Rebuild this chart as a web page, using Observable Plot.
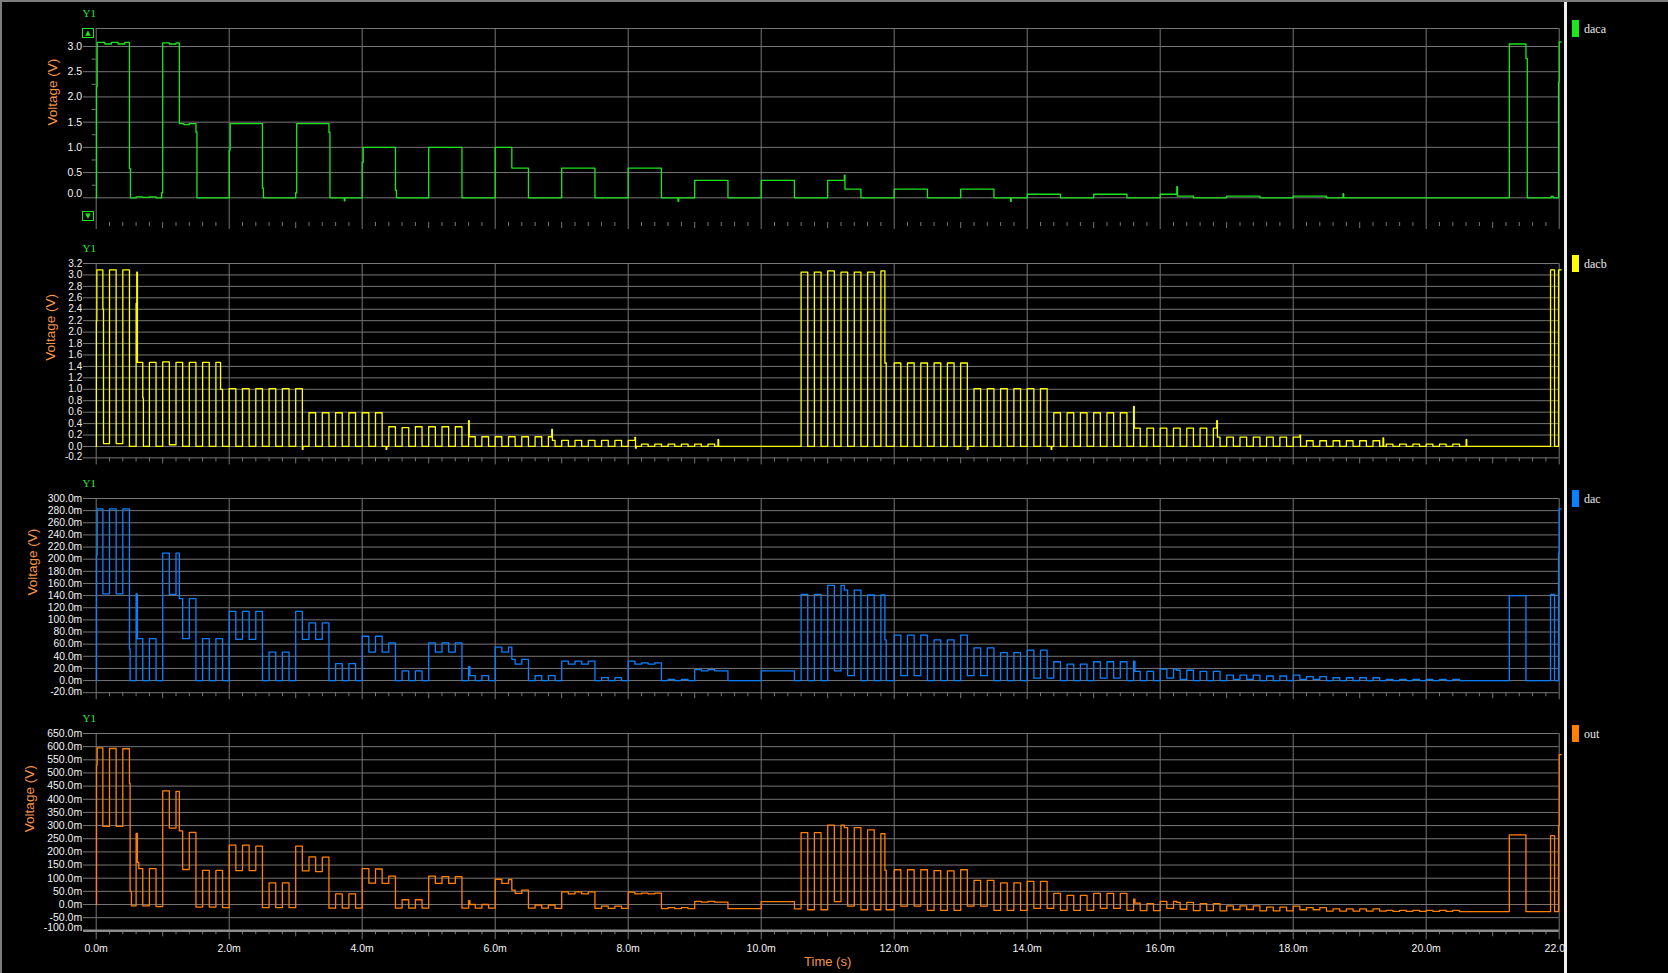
<!DOCTYPE html>
<html><head><meta charset="utf-8">
<script src="https://cdn.jsdelivr.net/npm/d3@7"></script>
<script src="https://cdn.jsdelivr.net/npm/@observablehq/plot@0.6"></script>
<style>
html,body{margin:0;padding:0;background:#000;width:1668px;height:973px;overflow:hidden;}
#root{position:relative;width:1668px;height:973px;background:#000;}
.pan{position:absolute;left:0;}
#topb{position:absolute;left:0;top:0;width:1668px;height:2px;background:#7c7c7c;}
#leftb{position:absolute;left:0;top:0;width:2px;height:973px;background:#7c7c7c;}
#sep{position:absolute;left:1564px;top:2px;width:3px;height:971px;background:#eeeeee;z-index:5;}
#leg{position:absolute;left:1567px;top:2px;width:101px;height:971px;background:#000;z-index:4;}
.sw{position:absolute;left:5px;width:7px;height:17px;}
.lt{position:absolute;left:17px;font:12px "Liberation Serif",serif;color:#e8e8e8;line-height:14px;}
.btn{position:absolute;left:82px;width:10px;height:8px;border:1px solid #22e022;color:#22e022;font:7px "DejaVu Sans",sans-serif;line-height:8px;text-align:center;z-index:3;}
</style></head>
<body><div id="root"><div id="topb"></div><div id="leftb"></div><div id="sep"></div><div id="leg"></div></div>
<script>
// ---------- data (time in ms) ----------
const seriesNames = ["daca", "dacb", "dac", "out"];
const seriesColors = ["#1de61d", "#ffff00", "#0a80ff", "#ff8000"];

// daca [ms, V]
const dacaPts = [[0,0],[0.005,2.2],[0.015,3.08],[0.13,3.05],[0.23,3.08],[0.33,3.05],[0.43,3.08],[0.5,0.58],[0.515,0],
[0.6,0.02],[0.7,0.01],[0.8,0.02],[0.9,0],[0.985,0.1],[1.0,3.07],[1.1,3.05],[1.2,3.07],[1.25,1.47],[1.32,1.45],[1.4,1.47],
[1.5,1.3],[1.515,0],[2.0,0.95],[2.015,1.47],[2.5,0.19],[2.515,0],[3.0,0.1],[3.015,1.47],[3.5,1.3],[3.515,0],[3.73,-0.06],[3.74,0],
[4.0,0.7],[4.015,1.0],[4.5,0.15],[4.515,0],[5.0,1.0],[5.5,0],[6.0,1.0],[6.25,0.59],[6.5,0],[7.0,0.59],[7.5,0],[8.0,0.59],[8.5,0],
[8.75,-0.07],[8.76,0],[9.0,0.345],[9.5,0],[10.0,0.345],[10.5,0],[11.0,0.345],[11.25,0.45],[11.26,0.17],[11.5,0],[12.0,0.17],[12.5,0],
[13.0,0.17],[13.5,0],[13.75,-0.07],[13.76,0],[14.0,0.07],[14.5,0],[15.0,0.07],[15.5,0],[16.0,0.07],[16.25,0.22],[16.26,0.035],[16.5,0],
[17.0,0.035],[17.5,0],[18.0,0.035],[18.5,0],[18.75,0.08],[18.76,0],[21.25,3.05],[21.5,2.76],[21.52,0],[21.88,0.03],[21.91,0],
[21.99,2.29],[22.0,3.09],[22.03,3.09]];

// dacb [ms, V]
const dacbPts = [[0,0],[0.003,2.2],[0.01,3.09],[0.1,2.4],[0.11,0.05],[0.2,3.09],[0.3,0.05],[0.4,3.09],[0.5,0],
[0.6,2.5],[0.61,3.05],[0.62,1.47],[0.7,0.85],[0.71,0],[0.8,1.47],[0.9,0],[1.0,1.48],[1.1,0.03],[1.2,1.47],[1.3,0],[1.4,1.47],[1.5,0],
[1.6,1.47],[1.7,0],[1.8,1.47],[1.87,1.0],[1.9,0],
[2.0,1.01],[2.1,0],[2.2,1.01],[2.3,0],[2.4,1.01],[2.5,0],[2.6,1.01],[2.7,0],[2.8,1.01],[2.9,0],[3.0,1.01],[3.1,-0.05],[3.11,0],
[3.2,0.59],[3.3,0],[3.4,0.59],[3.5,0],[3.6,0.59],[3.7,0],[3.8,0.59],[3.9,0],[4.0,0.59],[4.1,0],[4.2,0.59],[4.3,0],[4.36,-0.05],[4.37,0],
[4.4,0.345],[4.5,0],[4.6,0.33],[4.7,0],[4.8,0.345],[4.9,0],[5.0,0.345],[5.1,0],[5.2,0.345],[5.3,0],[5.4,0.345],[5.5,0],
[5.6,0.45],[5.61,0.17],[5.7,0],[5.8,0.17],[5.9,0],[6.0,0.17],[6.1,0],[6.2,0.17],[6.3,0],[6.4,0.17],[6.5,0],[6.6,0.17],[6.7,0],
[6.8,0.17],[6.85,0.3],[6.86,0.105],[6.9,0],
[7.0,0.105],[7.1,0],[7.2,0.105],[7.3,0],[7.4,0.105],[7.5,0],[7.6,0.105],[7.7,0],[7.8,0.105],[7.9,0],[8.0,0.105],[8.1,0.16],[8.11,-0.03],[8.12,0],
[8.2,0.04],[8.3,0],[8.4,0.04],[8.5,0],[8.6,0.04],[8.7,0],[8.8,0.04],[8.9,0],[9.0,0.04],[9.1,0],[9.2,0.04],[9.3,0],[9.35,0.12],[9.36,0],
[10.6,3.05],[10.7,0],[10.8,3.05],[10.9,0],[11.0,3.07],[11.1,0],[11.2,3.05],[11.3,0],[11.4,3.05],[11.5,0],[11.6,3.05],[11.7,0],
[11.8,3.07],[11.86,1.46],[11.88,0],
[12.0,1.46],[12.1,0],[12.2,1.46],[12.3,0],[12.4,1.46],[12.5,0],[12.6,1.46],[12.7,0],[12.8,1.46],[12.9,0],[13.0,1.46],[13.1,-0.05],[13.11,0],
[13.2,1.01],[13.3,0],[13.4,1.01],[13.5,0],[13.6,1.01],[13.7,0],[13.8,1.01],[13.9,0],[14.0,1.01],[14.1,0],[14.2,1.01],[14.3,0],[14.36,-0.05],[14.37,0],
[14.4,0.59],[14.5,0],[14.6,0.59],[14.7,0],[14.8,0.59],[14.9,0],[15.0,0.59],[15.1,0],[15.2,0.59],[15.3,0],[15.4,0.59],[15.5,0],
[15.6,0.7],[15.61,0.32],[15.7,0],[15.8,0.32],[15.9,0],[16.0,0.32],[16.1,0],[16.2,0.32],[16.3,0],[16.4,0.32],[16.5,0],[16.6,0.32],[16.7,0],
[16.8,0.32],[16.85,0.45],[16.86,0.165],[16.9,0],
[17.0,0.165],[17.1,0],[17.2,0.165],[17.3,0],[17.4,0.165],[17.5,0],[17.6,0.165],[17.7,0],[17.8,0.165],[17.9,0],[18.0,0.165],[18.1,0.2],[18.11,0],
[18.2,0.1],[18.3,0],[18.4,0.1],[18.5,0],[18.6,0.1],[18.7,0],[18.8,0.1],[18.9,0],[19.0,0.1],[19.1,0],[19.2,0.1],[19.3,0],[19.35,0.15],[19.36,0],
[19.4,0.04],[19.5,0],[19.6,0.04],[19.7,0],[19.8,0.04],[19.9,0],[20.0,0.04],[20.1,0],[20.2,0.04],[20.3,0],[20.4,0.04],[20.5,0],[20.6,0.12],[20.61,0],
[21.87,3.09],[21.93,0],[21.99,3.09],[22.03,3.09]];

// dac and out share the same breakpoints: [ms, dac mV, out mV]
const dacOutRows = [[0,0,0],[0.005,207,530],[0.015,283,595],
[0.1,143,297],[0.2,283,593],[0.3,143,297],[0.4,283,592],[0.5,52,460],[0.51,0,50],[0.53,0,-5],
[0.6,143,270],[0.62,69,160],[0.64,69,136],[0.7,0,-5],[0.8,69,136],[0.9,0,-8],
[1.0,210,432],[1.1,142,290],[1.2,210,430],[1.25,135,280],[1.3,69,133],[1.4,135,274],
[1.5,0,-10],[1.6,69,130],[1.7,0,-10],[1.8,69,130],[1.9,0,-12],
[2.0,114,226],[2.1,68,129],[2.2,114,226],[2.3,68,129],[2.4,114,222],
[2.5,0,-12],[2.6,47,82],[2.7,0,-12],[2.8,47,82],[2.9,0,-12],
[3.0,114,222],[3.1,68,128],[3.2,95,181],[3.3,68,125],[3.4,95,180],
[3.5,0,-14],[3.6,28,40],[3.7,0,-14],[3.8,28,40],[3.9,0,-14],
[4.0,73,136],[4.1,47,81],[4.2,73,135],[4.3,47,80],[4.4,62,108],
[4.5,0,-14],[4.6,16,18],[4.7,0,-14],[4.8,16,18],[4.9,0,-14],
[5.0,62,108],[5.1,47,80],[5.2,62,106],[5.3,47,80],[5.4,62,106],
[5.5,0,-14],[5.6,23,15],[5.62,8,0],[5.7,0,-14],[5.8,8,0],[5.9,0,-14],
[6.0,55,96],[6.1,47,80],[6.2,55,95],[6.25,35,55],[6.3,27,42],[6.4,35,55],
[6.5,0,-14],[6.6,8,-2],[6.7,0,-14],[6.8,8,-2],[6.9,0,-15],
[7.0,32,48],[7.1,27,40],[7.2,32,48],[7.3,27,40],[7.4,32,48],
[7.5,0,-15],[7.6,5,-6],[7.7,0,-15],[7.8,5,-6],[7.9,0,-15],
[8.0,32,47],[8.1,27,40],[8.2,29,43],[8.3,27,40],[8.4,29,43],
[8.5,0,-16],[8.6,2,-12],[8.7,0,-16],[8.8,2,-12],[8.9,0,-16],
[9.0,18,12],[9.1,16,9],[9.2,18,12],[9.3,16,9],[9.5,0,-16],[10.0,16,11],[10.5,0,-17],
[10.6,142,273],[10.7,0,-20],[10.8,142,273],[10.9,0,-20],
[11.0,157,302],[11.1,16,11],[11.2,157,302],[11.25,149,292],[11.3,8,-6],[11.4,149,292],
[11.5,0,-20],[11.6,141,284],[11.7,0,-20],[11.8,141,269],[11.86,67,130],[11.88,0,-20],
[12.0,75,132],[12.1,8,-6],[12.2,75,132],[12.3,8,-6],[12.4,75,132],
[12.5,0,-22],[12.6,67,129],[12.7,0,-22],[12.8,67,128],[12.9,0,-22],
[13.0,75,132],[13.1,8,-6],[13.2,54,92],[13.3,8,-6],[13.4,54,92],
[13.5,0,-22],[13.6,46,82],[13.7,0,-22],[13.8,46,82],[13.9,0,-22],
[14.0,50,88],[14.1,4,-15],[14.2,50,88],[14.3,4,-15],[14.4,31,42],
[14.5,0,-22],[14.6,27,35],[14.7,0,-22],[14.8,27,35],[14.9,0,-22],
[15.0,31,42],[15.1,4,-15],[15.2,31,42],[15.3,4,-15],[15.4,31,42],
[15.5,0,-22],[15.6,32,20],[15.62,15,5],[15.7,0,-23],[15.8,15,3],[15.9,0,-23],
[16.0,19,12],[16.1,4,-15],[16.2,19,12],[16.25,17,8],[16.3,2,-18],[16.4,17,8],
[16.5,0,-23],[16.6,15,3],[16.7,0,-23],[16.8,15,3],[16.9,0,-24],
[17.0,9,-5],[17.1,2,-19],[17.2,9,-5],[17.3,2,-19],[17.4,9,-5],
[17.5,0,-24],[17.6,7.5,-10],[17.7,0,-24],[17.8,7.5,-10],[17.9,0,-24],
[18.0,9,-6],[18.1,2,-20],[18.2,6.5,-12],[18.3,2,-20],[18.4,6.5,-12],
[18.5,0,-25],[18.6,4.6,-17],[18.7,0,-25],[18.8,4.6,-17],[18.9,0,-25],
[19.0,4.6,-17],[19.1,0,-25],[19.2,4.6,-17],[19.3,0,-25],
[19.4,1.8,-22],[19.5,0,-26],[19.6,1.8,-22],[19.7,0,-26],[19.8,1.8,-22],[19.9,0,-26],
[20.0,1.8,-22],[20.1,0,-26],[20.2,1.8,-22],[20.3,0,-26],[20.4,1.8,-22],[20.5,0,-27],
[21.25,140,265],[21.5,0,-27],[21.87,142,262],[21.93,0,-27],[21.99,210,300],[22.0,283,570],[22.03,283,570]];

// ticks
const xTicks = [0,2,4,6,8,10,12,14,16,18,20,22];
const xTickLabels = ["0.0m","2.0m","4.0m","6.0m","8.0m","10.0m","12.0m","14.0m","16.0m","18.0m","20.0m","22.0m"];
const xOddTicks = [1,3,5,7,9,11,13,15,17,19,21];
const yTicksA = [0,0.5,1.0,1.5,2.0,2.5,3.0];
const yLabelsA = ["0.0","0.5","1.0","1.5","2.0","2.5","3.0"];
const yMinorA = [0.25,0.75,1.25,1.75,2.25,2.75];
const yTicksB = [-0.2,0,0.2,0.4,0.6,0.8,1.0,1.2,1.4,1.6,1.8,2.0,2.2,2.4,2.6,2.8,3.0,3.2];
const yLabelsB = ["-0.2","0.0","0.2","0.4","0.6","0.8","1.0","1.2","1.4","1.6","1.8","2.0","2.2","2.4","2.6","2.8","3.0","3.2"];
const yTicksC = [-20,0,20,40,60,80,100,120,140,160,180,200,220,240,260,280,300];
const yLabelsC = ["-20.0m","0.0m","20.0m","40.0m","60.0m","80.0m","100.0m","120.0m","140.0m","160.0m","180.0m","200.0m","220.0m","240.0m","260.0m","280.0m","300.0m"];
const yTicksD = [-100,-50,0,50,100,150,200,250,300,350,400,450,500,550,600,650];
const yLabelsD = ["-100.0m","-50.0m","0.0m","50.0m","100.0m","150.0m","200.0m","250.0m","300.0m","350.0m","400.0m","450.0m","500.0m","550.0m","600.0m","650.0m"];

// ---------- drawing ----------
const GRID = "#767676";
const ORANGE = "#f7954a";
const SANS = "'Liberation Sans', Arial, sans-serif";
const SERIF = "'Liberation Serif', serif";
const minorX = d3.range(1, 110).map(i => i / 5).filter(t => Math.abs(t - Math.round(t)) > 1e-6);

function panel(o) {
  const W = 1562, ML = 95.7, MR = 3.3, MT = 28;
  const frameH = o.height - MT - o.mb;
  const fs = o.fs || 10.5;
  const marks = [];
  if (o.topRule) marks.push(Plot.ruleY([o.yDomain[1]], {stroke: GRID}));
  marks.push(Plot.ruleY(o.yTicks, {y: d => d, stroke: GRID, insetLeft: -12.7}));
  if (o.minorY) marks.push(Plot.ruleY(o.minorY, {y: d => d, stroke: GRID, insetLeft: -4, insetRight: W - ML - MR}));
  marks.push(Plot.ruleX(xTicks, {x: d => d, stroke: GRID, insetBottom: o.xAxis ? -9 : -7}));
  marks.push(Plot.ruleX(minorX, {x: d => d, stroke: GRID, insetTop: frameH, insetBottom: -4}));
  marks.push(Plot.ruleX(xOddTicks, {x: d => d, stroke: GRID, insetTop: frameH, insetBottom: -6}));
  if (o.xAxis) {
    marks.push(Plot.ruleY([o.yDomain[0]], {stroke: "#8c8c8c", strokeWidth: 2.4, insetLeft: -12.7}));
    marks.push(Plot.text(xTicks, {x: d => d, text: (d, i) => xTickLabels[i], frameAnchor: "bottom", lineAnchor: "middle", dy: 18,
      fill: "#f4f4f4", fontSize: 10.5, fontFamily: SANS}));
    marks.push(Plot.text(["Time (s)"], {frameAnchor: "bottom", lineAnchor: "middle", dy: 31, fill: ORANGE, fontSize: 13, fontFamily: SANS}));
  }
  marks.push(Plot.text(o.yTicks.slice(1), {y: d => d, text: (d, i) => o.yLabels[i + 1], frameAnchor: "left", dx: -14,
    textAnchor: "end", fill: "#f4f4f4", fontSize: fs, fontFamily: SANS}));
  marks.push(Plot.text(o.yTicks.slice(0, 1), {y: d => d, text: o.yLabels.slice(0, 1), frameAnchor: "left", dx: -14, dy: o.lowDy,
    textAnchor: "end", fill: "#f4f4f4", fontSize: fs, fontFamily: SANS}));
  marks.push(Plot.text(["Voltage (V)"], {frameAnchor: "left", dx: o.ylabDx, rotate: -90, fill: ORANGE, fontSize: 13.5, fontFamily: SANS}));
  marks.push(Plot.text(["Y1"], {frameAnchor: "top-left", lineAnchor: "middle", dx: -13.7, dy: -15.5, fill: "#33e633", fontSize: 11, fontFamily: SERIF}));
  marks.push(Plot.line(o.data, {x: d => d[0], y: o.y, curve: "step-after", stroke: o.color, strokeWidth: 1.3}));
  const svg = Plot.plot({
    width: W, height: o.height, marginLeft: ML, marginRight: MR, marginTop: MT, marginBottom: o.mb,
    x: {domain: [0, 22], axis: null},
    y: {domain: o.yDomain, axis: null},
    style: {background: "transparent", color: "#fff", overflow: "visible", fontFamily: SANS},
    marks
  });
  svg.classList.add("pan");
  svg.style.top = o.top + "px";
  svg.style.position = "absolute";
  svg.style.left = "0px";
  svg.style.maxWidth = "none";
  document.getElementById("root").appendChild(svg);
}

panel({top: 0, height: 235, mb: 13, data: dacaPts, y: d => d[1], color: seriesColors[0], yDomain: [-0.49, 3.357],
  yTicks: yTicksA, yLabels: yLabelsA, minorY: yMinorA, ylabDx: -43.7, topRule: true, lowDy: -4});
panel({top: 235, height: 235, mb: 12.6, data: dacbPts, y: d => d[1], color: seriesColors[1], yDomain: [-0.2, 3.2],
  yTicks: yTicksB, yLabels: yLabelsB, ylabDx: -45.7, lowDy: -1, fs: 10});
panel({top: 470, height: 235, mb: 12.8, data: dacOutRows, y: d => d[1], color: seriesColors[2], yDomain: [-20, 300],
  yTicks: yTicksC, yLabels: yLabelsC, ylabDx: -63.7, lowDy: -1, fs: 10.3});
panel({top: 705, height: 268, mb: 42.7, data: dacOutRows, y: d => d[2], color: seriesColors[3], yDomain: [-100, 650],
  yTicks: yTicksD, yLabels: yLabelsD, ylabDx: -66.7, xAxis: true, lowDy: -3});

// legend
const leg = document.getElementById("leg");
seriesNames.forEach((n, i) => {
  const top = 18 + 235 * i;
  const sw = document.createElement("div");
  sw.className = "sw"; sw.style.top = top + "px"; sw.style.background = seriesColors[i];
  leg.appendChild(sw);
  const t = document.createElement("div");
  t.className = "lt"; t.style.top = (top + 2) + "px"; t.textContent = n;
  leg.appendChild(t);
});
// scroll buttons of the first panel
const root = document.getElementById("root");
[["▲", 28], ["▼", 211]].forEach(([s, y]) => {
  const b = document.createElement("div");
  b.className = "btn"; b.style.top = y + "px"; b.textContent = s;
  root.appendChild(b);
});
</script></body></html>
